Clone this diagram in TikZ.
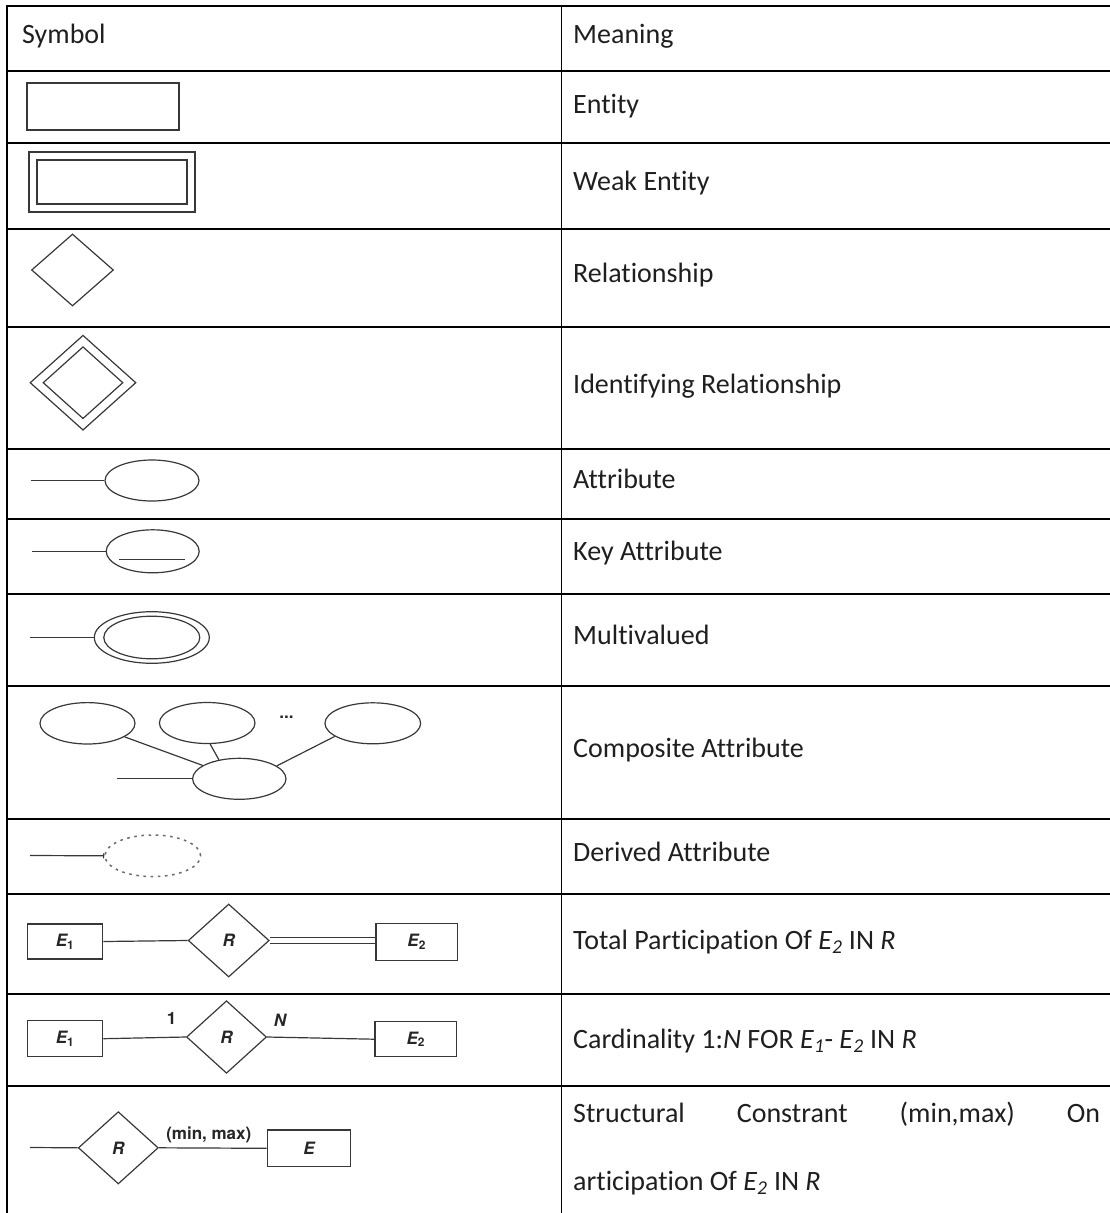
\documentclass[tikz,border=0pt]{standalone}
\usepackage{fontspec}
\setmainfont{Carlito}[Ligatures=NoCommon]
\newfontfamily\erfont{TeX Gyre Heros}
\usetikzlibrary{shapes.geometric,arrows.meta}

\begin{document}
\begin{tikzpicture}[x=1pt,y=-1pt,
  grid/.style={line width=1.9pt, line cap=rect, draw=black},
  cell/.style={anchor=base west, inner sep=0pt, text=black!88, font=\fontsize{28}{33}\selectfont},
  sym/.style={draw=black!78, line width=1.2pt},
  ent/.style={sym, rectangle, inner sep=0pt},
  rel/.style={sym, diamond, inner sep=0pt},
  att/.style={sym, ellipse, inner sep=0pt},
  erlabel/.style={font=\erfont\bfseries\fontsize{17}{19}\selectfont, text=black!85},
  lbl/.style={erlabel, inner sep=0pt},
  link/.style={draw=black!78, line width=1.2pt},
]
\useasboundingbox (0,0) rectangle (1110,1213);

% ---------- table rules ----------
\foreach \yy in {6,71,143,229,327,449,519,594,686,819,894,994,1086}
  \draw[grid] (7,\yy) -- (1125,\yy);
\draw[grid] (7,6) -- (7,1230);
\draw[grid] (561.5,6) -- (561.5,1230);

% ---------- header ----------
\node[cell] (hsym)  at (22,43)  {Symbol};
\node[cell] (hmean) at (573,43) {Meaning};

% ---------- meanings ----------
\node[cell] (mEntity)   at (573,113) {Entity};
\node[cell] (mWeak)     at (573,190) {Weak Entity};
\node[cell] (mRel)      at (573,282) {Relationship};
\node[cell] (mIdRel)    at (573,393) {Identifying Relationship};
\node[cell] (mAttr)     at (573,488) {Attribute};
\node[cell] (mKey)      at (573,560) {Key Attribute};
\node[cell] (mMulti)    at (573,644) {Multivalued};
\node[cell] (mComp)     at (573,757) {Composite Attribute};
\node[cell] (mDerived)  at (573,861) {Derived Attribute};
\node[cell] (mTotal)    at (573,949) {Total Participation Of \textit{E}\textsubscript{\textit{2}} IN \textit{R}};
\node[cell] (mCard)     at (573,1048) {Cardinality 1:\textit{N} FOR \textit{E}\textsubscript{\textit{1}}- \textit{E}\textsubscript{\textit{2}} IN \textit{R}};
\node[cell] (mStructA)  at (573,1122) {\hbox to 527pt{Structural\hfill Constrant\hfill (min,max)\hfill On}};
\node[cell] (mStructB)  at (573,1190) {articipation Of \textit{E}\textsubscript{\textit{2}} IN \textit{R}};

% ---------- entity / weak entity ----------
\node[ent, minimum width=152pt, minimum height=47pt] (entity) at (103,106.5) {};
\node[ent, minimum width=166pt, minimum height=60pt] (weakOut) at (112,182) {};
\node[ent, minimum width=150pt, minimum height=44pt] (weakIn) at (112,182) {};

% ---------- relationship / identifying relationship ----------
\node[rel, minimum width=82pt, minimum height=72pt] (relSym) at (72.5,270) {};
\node[rel, minimum width=106pt, minimum height=95pt] (idOut) at (83,382.7) {};
\node[rel, minimum width=80pt, minimum height=72pt] (idIn) at (83,382.7) {};

% ---------- attribute ----------
\node[att, minimum width=94pt, minimum height=41pt] (attr) at (152,480.5) {};
\coordinate (attrEnd) at (30.5,480.5);
\draw[link] (attrEnd) -- (attr.west);

% ---------- key attribute ----------
\node[att, minimum width=93pt, minimum height=43pt] (keyAttr) at (152.7,551.3) {};
\coordinate (keyEnd) at (31.5,551.3);
\draw[link] (keyEnd) -- (keyAttr.west);
\coordinate (keyUlA) at (119,559.5);
\coordinate (keyUlB) at (184.5,559.5);
\draw[link] (keyUlA) -- (keyUlB);

% ---------- multivalued ----------
\node[att, minimum width=115pt, minimum height=51.6pt] (mvOut) at (151.8,637.5) {};
\node[att, minimum width=96pt, minimum height=42.6pt] (mvIn) at (151.8,637.5) {};
\coordinate (mvEnd) at (30,637.5);
\draw[link] (mvEnd) -- (mvOut.west);

% ---------- composite attribute ----------
\node[att, minimum width=95pt, minimum height=41.4pt] (comp1) at (87.5,723.3) {};
\node[att, minimum width=95.6pt, minimum height=41pt] (comp2) at (207.2,723) {};
\node[att, minimum width=95.7pt, minimum height=41pt] (comp3) at (372.8,723.3) {};
\node[att, minimum width=93.4pt, minimum height=41pt] (compBase) at (239.3,778.8) {};
\node[lbl, font=\erfont\bfseries\fontsize{17}{18}\selectfont] (compDots) at (286.5,717) {...};
\draw[link] (comp1) -- (compBase);
\draw[link] (comp2.-82) -- (compBase.137);
\draw[link] (comp3.199) -- (compBase.19);
\coordinate (compEnd) at (116.7,778.8);
\draw[link] (compEnd) -- (compBase.west);

% ---------- derived attribute ----------
\node[att, draw=black!58, line width=1.5pt, dash pattern=on 2.6pt off 4.6pt,
      minimum width=95.6pt, minimum height=41.6pt] (derived) at (152.8,855.8) {};
\coordinate (derEnd) at (30,855.5);
\draw[link, -{Bar[width=5pt]}] (derEnd) -- (derived.west);

% ---------- total participation ----------
\node[ent, erlabel, minimum width=75.4pt, minimum height=35pt] (tpE1) at (65,941.5) {\itshape E\textsubscript{\upshape 1}};
\node[rel, erlabel, minimum width=81pt, minimum height=73pt] (tpR) at (228.7,940.5) {\itshape R};
\node[ent, erlabel, minimum width=81.3pt, minimum height=37.4pt] (tpE2) at (416.7,942) {\itshape E\textsubscript{\upshape 2}};
\draw[link] (tpE1.east) -- (tpR.west);
\draw[link, double=white, double distance=4.8pt] (tpR.east) -- (tpR.east -| tpE2.west);

% ---------- cardinality ----------
\node[ent, erlabel, minimum width=75.4pt, minimum height=36pt] (cdE1) at (65,1038.7) {\itshape E\textsubscript{\upshape 1}};
\node[rel, erlabel, minimum width=80pt, minimum height=72.6pt] (cdR) at (226.5,1037) {\itshape R};
\node[ent, erlabel, minimum width=81.7pt, minimum height=35pt] (cdE2) at (415.8,1039.2) {\itshape E\textsubscript{\upshape 2}};
\draw[link] (cdE1.east) -- (cdR.west);
\draw[link] (cdR.east) -- (cdE2.west);
\node[lbl] (cdOne) at (171.7,1018.3) {1};
\node[lbl] (cdN) at (280,1020.7) {\itshape N};

% ---------- structural constraint ----------
\coordinate (scEnd) at (30,1147.5);
\node[rel, erlabel, minimum width=80pt, minimum height=72.3pt] (scR) at (118.3,1147.8) {\itshape R};
\node[ent, erlabel, minimum width=83.4pt, minimum height=36.7pt] (scE) at (309,1148.3) {\itshape E};
\draw[link] (scEnd) -- (scR.west);
\draw[link] (scR.east) -- (scE.west);
\node[lbl] (scMinMax) at (208.8,1135) {(min, max)};
\end{tikzpicture}
\end{document}
